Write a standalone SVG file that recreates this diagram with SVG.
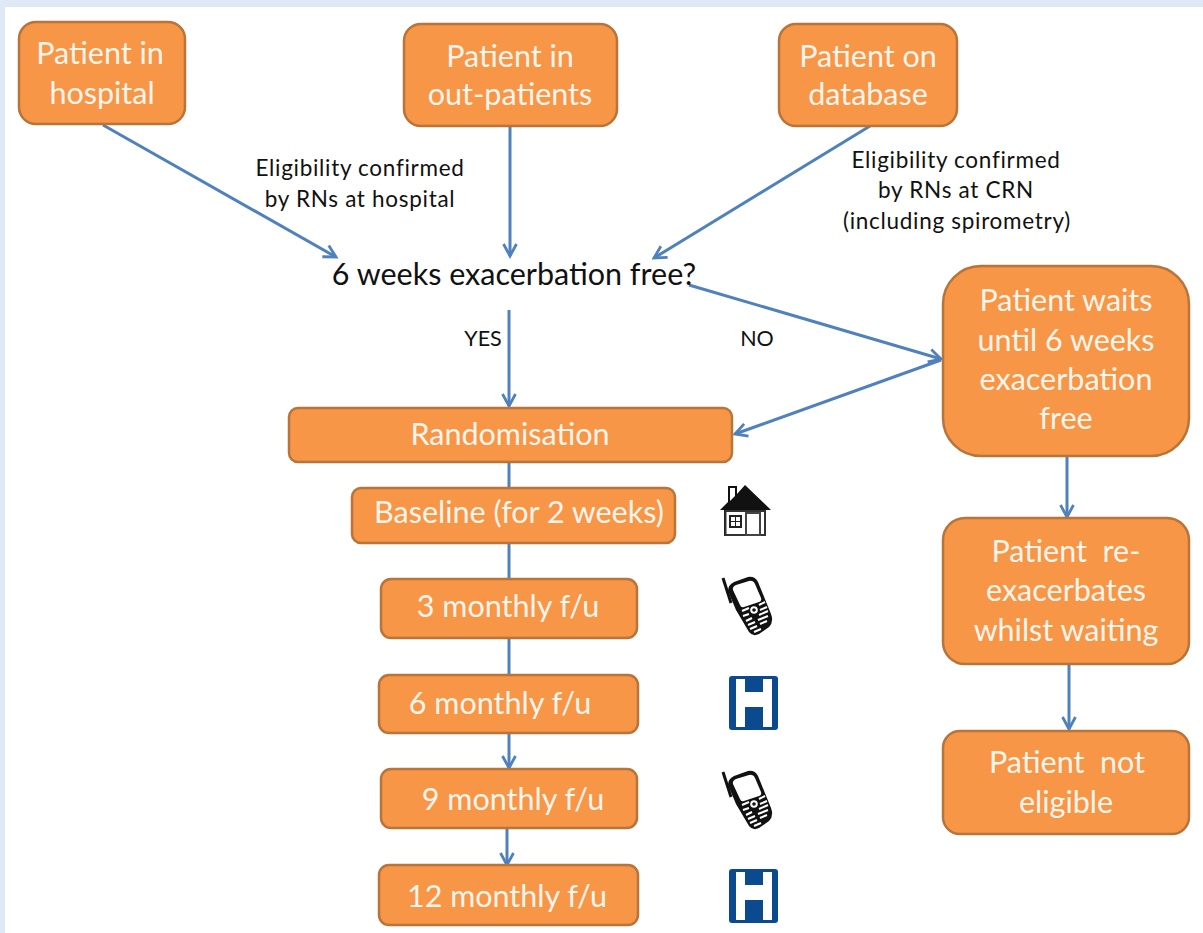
<svg xmlns="http://www.w3.org/2000/svg" width="1203" height="933" viewBox="0 0 1203 933">
<style>
.n{fill:#F79646;stroke:#B9743A;stroke-width:2.5}
.t{font-family:Lato,"Liberation Sans",sans-serif;font-size:30.5px;fill:#FFF5EC;text-anchor:middle}
.k{font-family:Lato,"Liberation Sans",sans-serif;font-size:21.5px;fill:#111;text-anchor:middle}
.e{font-size:22.5px;letter-spacing:.7px}
.c{fill:none;stroke:#4F81BD;stroke-width:3}
</style>
<defs>
<marker id="a" markerUnits="userSpaceOnUse" markerWidth="18" markerHeight="18" refX="15" refY="9" orient="auto"><path d="M3 2.500L15 9L3 15.500" fill="none" stroke="#4F81BD" stroke-width="2.800"/></marker>
<g id="phone">
<path d="M1 0L9 25" stroke="#111" stroke-width="3" fill="none"/>
<path d="M6 13Q6 7 12 4L26 -1Q33 -2 36 4L49 36Q52 44 47 49L37 56Q31 59 27 54L14 32Z" fill="#111"/>
<path d="M11 12Q10 9 14 7L27 3Q31 2 33 6L39 20Q40 23 37 24L22 29Q19 30 18 27Z" fill="#fff"/>
<g stroke="#fff" stroke-width="2" fill="none"><path d="M20 33L27 30M37 27L43 24M21 38L27 36M38 32L45 29M24 43L30 40M37 37L46 33M26 47L33 44M36 42L46 38M28 51L35 48M38 46L45 43M32 54L39 51"/><circle cx="32" cy="32" r="2.800"/></g>
</g>
<g id="hosp">
<rect x="0" y="0" width="49" height="54" rx="3" fill="#0B4A8F"/>
<path d="M7 3H16V16H34V3H43V51H34V31H16V51H7Z" fill="#fff"/>
</g>
</defs>
<rect width="1203" height="933" fill="#fff"/>
<path d="M0 0H1203V7H5V933H0Z" fill="#DEE9F5"/>
<g id="connectors" class="c">
<path d="M103 125L336 257" marker-end="url(#a)"/>
<path d="M510 127V256" marker-end="url(#a)"/>
<path d="M870 126L654 258" marker-end="url(#a)"/>
<path d="M689 285L941 359" marker-end="url(#a)"/>
<path d="M941 360L735 434" marker-end="url(#a)"/>
<path d="M509 310V406" marker-end="url(#a)"/>
<path d="M509 462V488M509 543V579M509 638V675"/>
<path d="M509 733V768" marker-end="url(#a)"/>
<path d="M507 828V865" marker-end="url(#a)"/>
<path d="M1067 456V517" marker-end="url(#a)"/>
<path d="M1069 665V729" marker-end="url(#a)"/>
</g>
<g id="n1"><rect class="n" x="19" y="22" width="166" height="102" rx="17"/><text class="t" x="100" y="64">Patient in</text><text class="t" x="102" y="104">hospital</text></g>
<g id="n2"><rect class="n" x="404" y="24" width="213" height="102" rx="17"/><text class="t" x="510" y="67">Patient in</text><text class="t" x="510" y="105">out-patients</text></g>
<g id="n3"><rect class="n" x="779" y="24" width="178" height="102" rx="17"/><text class="t" x="868" y="67">Patient on</text><text class="t" x="868" y="105">database</text></g>
<g id="q"><text x="514" y="285" font-family="Lato,'Liberation Sans',sans-serif" font-size="30.500" fill="#111" text-anchor="middle">6 weeks exacerbation free?</text></g>
<g id="l1"><text class="k e" x="360" y="176">Eligibility confirmed</text><text class="k e" x="360" y="207">by RNs at hospital</text></g>
<g id="l2"><text class="k e" x="956" y="168">Eligibility confirmed</text><text class="k e" x="956" y="198">by RNs at CRN</text><text class="k e" x="957" y="229">(including spirometry)</text></g>
<g id="yes"><text class="k" x="483" y="346">YES</text></g>
<g id="no"><text class="k" x="757" y="346">NO</text></g>
<g id="wait"><rect class="n" x="943" y="266" width="246" height="190" rx="38"/><text class="t" x="1066" y="311">Patient waits</text><text class="t" x="1066" y="351">until 6 weeks</text><text class="t" x="1066" y="390">exacerbation</text><text class="t" x="1066" y="429">free</text></g>
<g id="rand"><rect class="n" x="289" y="408" width="443" height="54" rx="9"/><text class="t" x="510" y="445">Randomisation</text></g>
<g id="base"><rect class="n" x="352" y="488" width="323" height="55" rx="9"/><text class="t" x="519" y="523">Baseline (for 2 weeks)</text></g>
<g id="m3"><rect class="n" x="381" y="579" width="256" height="59" rx="10"/><text class="t" x="508" y="617">3 monthly f/u</text></g>
<g id="m6"><rect class="n" x="379" y="675" width="259" height="58" rx="10"/><text class="t" x="500" y="714">6 monthly f/u</text></g>
<g id="m9"><rect class="n" x="381" y="769" width="256" height="59" rx="10"/><text class="t" x="513" y="810">9 monthly f/u</text></g>
<g id="m12"><rect class="n" x="379" y="865" width="259" height="60" rx="10"/><text class="t" x="507" y="907">12 monthly f/u</text></g>
<g id="re"><rect class="n" x="943" y="518" width="246" height="146" rx="22"/><text class="t" x="1066" y="562" xml:space="preserve">Patient  re-</text><text class="t" x="1066" y="601">exacerbates</text><text class="t" x="1066" y="641">whilst waiting</text></g>
<g id="ne"><rect class="n" x="943" y="731" width="246" height="103" rx="17"/><text class="t" x="1067" y="773" xml:space="preserve">Patient  not</text><text class="t" x="1066" y="813">eligible</text></g>
<g id="house">
<path d="M728 486H737V494L745 485L771 510H766V536H724V510H720L728 502Z" fill="#111"/>
<path d="M730 488H735V496L730 501Z" fill="#fff"/>
<path d="M725.500 511H765V535H725.500Z" fill="#fff" stroke="#333" stroke-width="2"/>
<path d="M746 513H760V535H746Z" fill="#fff" stroke="#444" stroke-width="2"/>
<path d="M730 516H741V527H730Z" fill="#fff" stroke="#222" stroke-width="2"/><path d="M735.500 516V527M730 521.500H741" stroke="#222"/>
</g>
<use id="ph1" href="#phone" x="722" y="578"/>
<use id="ph2" href="#phone" x="722" y="772"/>
<use id="h1" href="#hosp" x="729" y="676"/>
<use id="h2" href="#hosp" x="729" y="869"/>
</svg>
